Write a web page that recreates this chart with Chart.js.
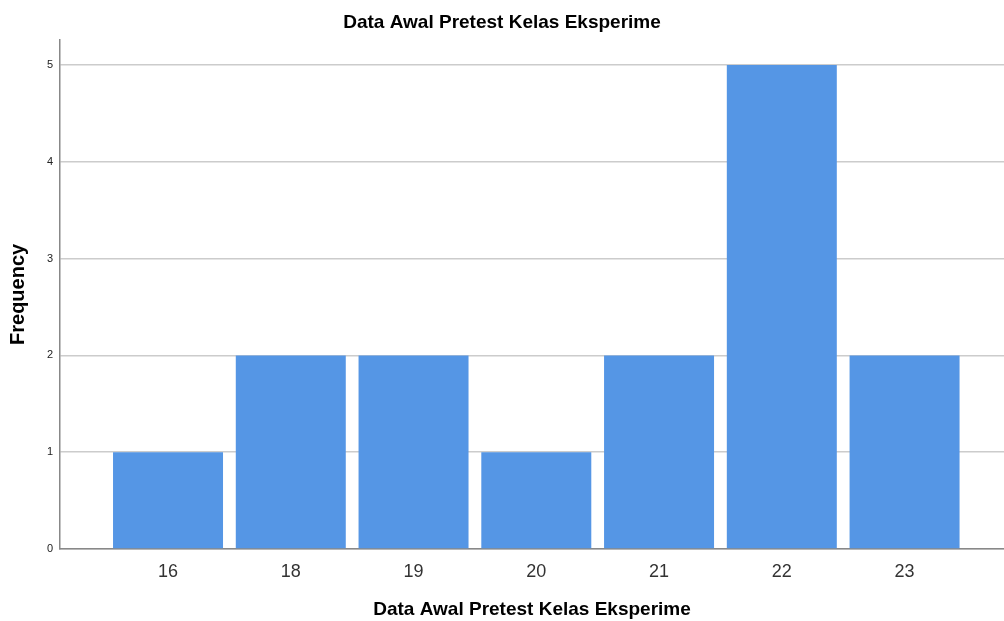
<!DOCTYPE html>
<html>
<head>
<meta charset="utf-8">
<script src="https://cdn.jsdelivr.net/npm/chart.js@4/dist/chart.umd.min.js"></script>
<style>
  html, body { margin: 0; padding: 0; background: #fff; }
  #wrap { width: 1004px; height: 621px; }
</style>
</head>
<body>
<div id="wrap"><canvas id="c"></canvas></div>
<script>
const scoreLabels = ["16", "18", "19", "20", "21", "22", "23"];
const frequencies = [1, 2, 2, 1, 2, 5, 2];
const yTicks = [0, 1, 2, 3, 4, 5];

const points = frequencies.map((v, i) => ({ x: i, y: v }));
const FONT = "Arial, 'Liberation Sans'";

new Chart(document.getElementById("c"), {
  type: "bar",
  data: {
    datasets: [{
      data: points,
      backgroundColor: "#5596e5",
      borderWidth: 0,
      categoryPercentage: 1,
      barPercentage: 0.896
    }]
  },
  options: {
    responsive: true,
    maintainAspectRatio: false,
    animation: false,
    layout: { padding: 0 },
    plugins: {
      legend: { display: false },
      tooltip: { enabled: false },
      title: {
        display: true,
        text: "Data Awal Pretest Kelas Eksperime",
        color: "#000",
        font: { family: FONT, size: 19, weight: "bold" },
        padding: { top: 11, bottom: 6 }
      }
    },
    scales: {
      x: {
        type: "linear",
        offset: false,
        min: -0.88,
        max: 6.81,
        afterBuildTicks: (s) => { s.ticks = scoreLabels.map((_, i) => ({ value: i })); },
        afterFit: (s) => { s.height = 72; },
        grid: { display: false, drawTicks: false },
        border: { color: "#888", width: 1.5 },
        ticks: {
          callback: (v) => scoreLabels[v],
          color: "#333",
          padding: 12,
          maxRotation: 0,
          font: { family: FONT, size: 18 }
        },
        title: {
          display: true,
          text: "Data Awal Pretest Kelas Eksperime",
          color: "#000",
          font: { family: FONT, size: 19, weight: "bold" },
          padding: { top: 0, bottom: 0 }
        }
      },
      y: {
        min: 0,
        max: 5.26,
        afterBuildTicks: (s) => { s.ticks = yTicks.map(v => ({ value: v })); },
        afterFit: (s) => { s.width = 60; },
        grid: { color: "#cccccc", lineWidth: 1.5, drawTicks: false },
        border: { color: "#888", width: 1.5 },
        ticks: {
          color: "#222",
          padding: 7,
          font: { family: FONT, size: 11 }
        },
        title: {
          display: true,
          text: "Frequency",
          color: "#000",
          font: { family: FONT, size: 20, weight: "bold" },
          padding: { top: 6, bottom: 0 }
        }
      }
    }
  }
});
</script>
</body>
</html>
